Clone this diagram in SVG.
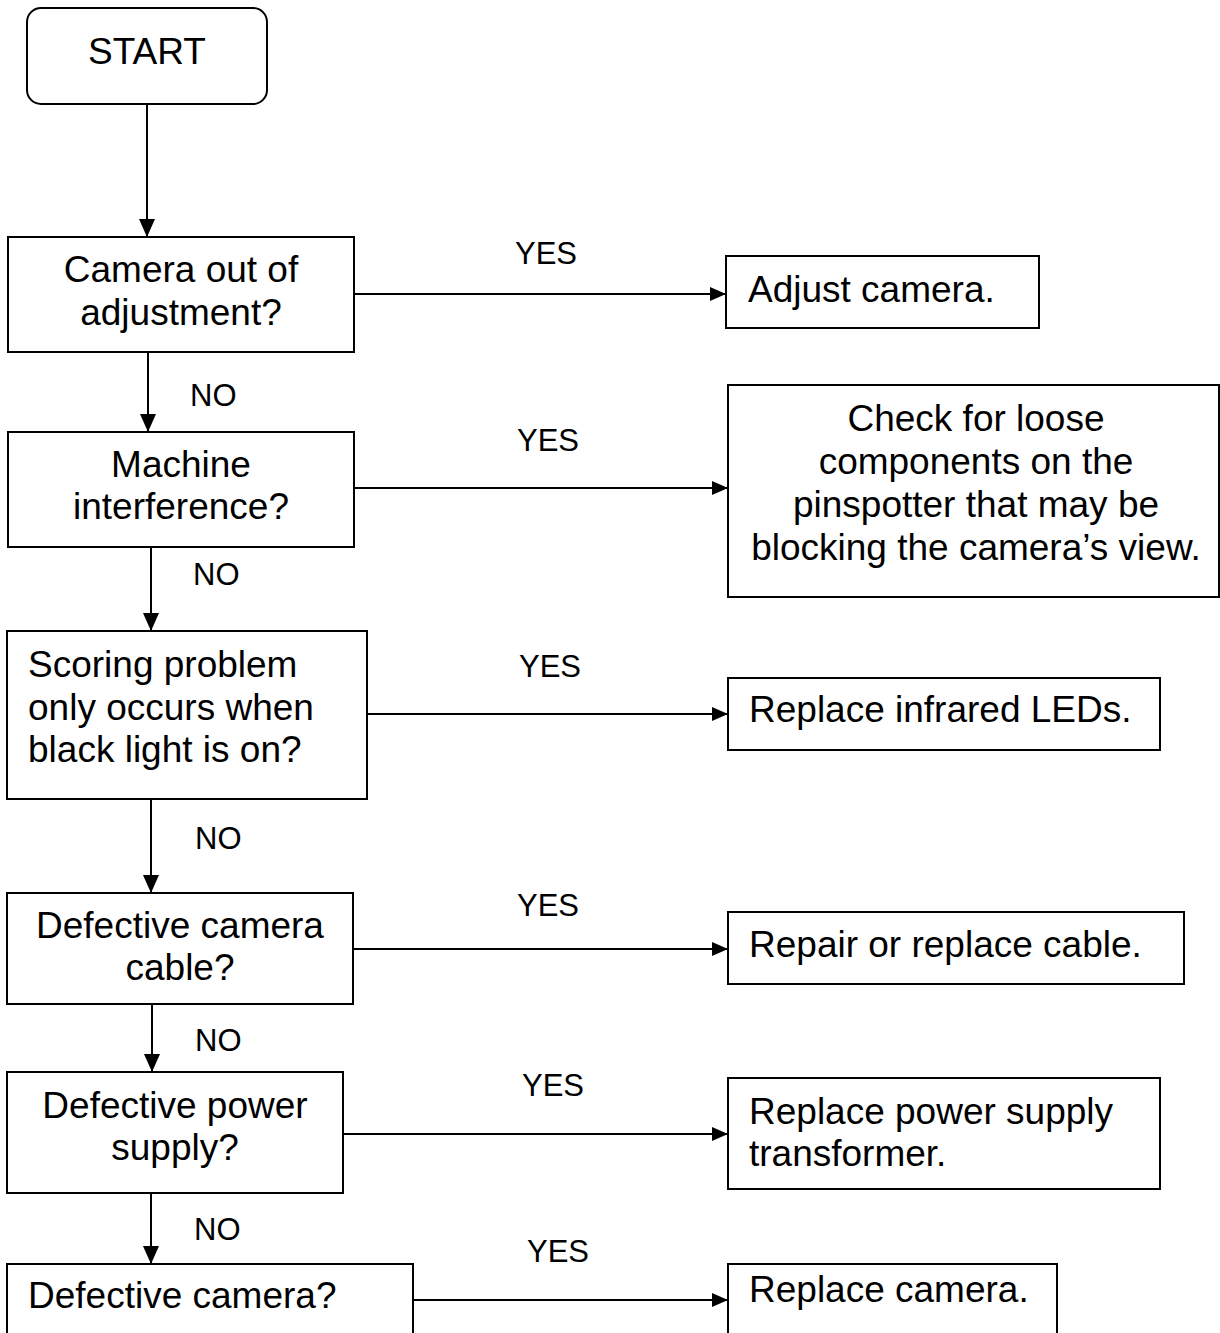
<svg xmlns="http://www.w3.org/2000/svg" width="1220" height="1333" viewBox="0 0 1220 1333">
<style>
.box{fill:#fff;stroke:#000;stroke-width:2}
.t{font-family:"Liberation Sans",Arial,sans-serif;font-size:37px;fill:#000}
.c{text-anchor:middle}
.lbl{font-family:"Liberation Sans",Arial,sans-serif;font-size:31px;fill:#000}
.v{stroke:#000;stroke-width:2;fill:none;marker-end:url(#arrv)}
.h{stroke:#000;stroke-width:2;fill:none;marker-end:url(#arrh)}
</style>
<defs>
<marker id="arrv" markerUnits="userSpaceOnUse" markerWidth="20" markerHeight="18" refX="18" refY="8" orient="auto">
<path d="M0,0 L18,8 L0,16 Z" fill="#000"/>
</marker>
<marker id="arrh" markerUnits="userSpaceOnUse" markerWidth="18" markerHeight="16" refX="16" refY="7" orient="auto">
<path d="M0,0 L16,7 L0,14 Z" fill="#000"/>
</marker>
</defs>
<rect width="1220" height="1333" fill="#fff"/>
<g id="connectors">
<line class="v" x1="147" y1="104" x2="147" y2="237"/>
<line class="v" x1="148" y1="352" x2="148" y2="432"/>
<line class="v" x1="151" y1="547" x2="151" y2="631"/>
<line class="v" x1="151" y1="799" x2="151" y2="893"/>
<line class="v" x1="152" y1="1004" x2="152" y2="1072"/>
<line class="v" x1="151" y1="1193" x2="151" y2="1264"/>
<line class="h" x1="354" y1="294" x2="726" y2="294"/>
<line class="h" x1="354" y1="488" x2="728" y2="488"/>
<line class="h" x1="367" y1="714" x2="728" y2="714"/>
<line class="h" x1="353" y1="949" x2="728" y2="949"/>
<line class="h" x1="343" y1="1134" x2="728" y2="1134"/>
<line class="h" x1="413" y1="1300" x2="728" y2="1300"/>
<text class="lbl c" x="546" y="264">YES</text>
<text class="lbl c" x="548" y="451">YES</text>
<text class="lbl c" x="550" y="677">YES</text>
<text class="lbl c" x="548" y="916">YES</text>
<text class="lbl c" x="553" y="1096">YES</text>
<text class="lbl c" x="558" y="1262">YES</text>
<text class="lbl" x="190" y="406">NO</text>
<text class="lbl" x="193" y="585">NO</text>
<text class="lbl" x="195" y="849">NO</text>
<text class="lbl" x="195" y="1051">NO</text>
<text class="lbl" x="194" y="1240">NO</text>
</g>
<g id="start">
<rect class="box" x="27" y="8" width="240" height="96" rx="14"/>
<text class="t c" x="147" y="64">START</text>
</g>
<g id="q1">
<rect class="box" x="8" y="237" width="346" height="115"/>
<text class="t c" x="181" y="282">Camera out of</text>
<text class="t c" x="181" y="325">adjustment?</text>
</g>
<g id="q2">
<rect class="box" x="8" y="432" width="346" height="115"/>
<text class="t c" x="181" y="477">Machine</text>
<text class="t c" x="181" y="519">interference?</text>
</g>
<g id="q3">
<rect class="box" x="7" y="631" width="360" height="168"/>
<text class="t" x="28" y="677">Scoring problem</text>
<text class="t" x="28" y="720">only occurs when</text>
<text class="t" x="28" y="762">black light is on?</text>
</g>
<g id="q4">
<rect class="box" x="7" y="893" width="346" height="111"/>
<text class="t c" x="180" y="938">Defective camera</text>
<text class="t c" x="180" y="980">cable?</text>
</g>
<g id="q5">
<rect class="box" x="7" y="1072" width="336" height="121"/>
<text class="t c" x="175" y="1118">Defective power</text>
<text class="t c" x="175" y="1160">supply?</text>
</g>
<g id="q6">
<rect class="box" x="7" y="1264" width="406" height="90"/>
<text class="t" x="28" y="1308">Defective camera?</text>
</g>
<g id="a1">
<rect class="box" x="726" y="256" width="313" height="72"/>
<text class="t" x="748" y="302">Adjust camera.</text>
</g>
<g id="a2">
<rect class="box" x="728" y="385" width="491" height="212"/>
<text class="t c" x="976" y="431">Check for loose</text>
<text class="t c" x="976" y="474">components on the</text>
<text class="t c" x="976" y="517">pinspotter that may be</text>
<text class="t c" x="976" y="560">blocking the camera’s view.</text>
</g>
<g id="a3">
<rect class="box" x="728" y="678" width="432" height="72"/>
<text class="t" x="749" y="722">Replace infrared LEDs.</text>
</g>
<g id="a4">
<rect class="box" x="728" y="912" width="456" height="72"/>
<text class="t" x="749" y="957">Repair or replace cable.</text>
</g>
<g id="a5">
<rect class="box" x="728" y="1078" width="432" height="111"/>
<text class="t" x="749" y="1124">Replace power supply</text>
<text class="t" x="749" y="1166">transformer.</text>
</g>
<g id="a6">
<rect class="box" x="728" y="1264" width="329" height="90"/>
<text class="t" x="749" y="1302">Replace camera.</text>
</g>
</svg>
